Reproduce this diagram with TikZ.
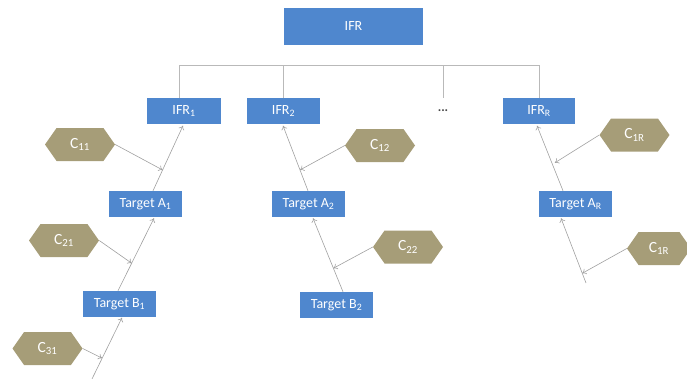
\documentclass[tikz,border=0pt]{standalone}
\usepackage{fontspec}
\setmainfont{Carlito}
\usetikzlibrary{shapes.symbols,calc,arrows.meta}
\definecolor{boxblue}{RGB}{79,135,206}
\definecolor{hextan}{RGB}{166,157,120}
\definecolor{treegray}{RGB}{185,185,185}
\definecolor{arrgray}{RGB}{160,160,160}
\definecolor{dotgray}{RGB}{70,70,70}
\begin{document}
\begin{tikzpicture}[x=1pt,y=-1pt,
  box/.style={fill=boxblue,text=white,inner sep=0pt,minimum width=73pt,minimum height=26pt,font=\fontsize{14}{16}\selectfont},
  hexa/.style={signal,signal to=east and west,signal pointer angle=110,fill=hextan,text=white,minimum width=70pt,minimum height=33pt,inner sep=0pt,font=\fontsize{15.5}{17}\selectfont},
  tree/.style={draw=treegray,line width=0.8pt},
  arr/.style={draw=arrgray,line width=0.6pt,-{To[length=4pt,width=6pt]}}]
\useasboundingbox (0,0) rectangle (687,378);
\clip (0,0) rectangle (687,378);
% boxes
\node[box,minimum width=139pt,minimum height=37pt] (IFR) at (353.5,26.5) {IFR};
\node[box,minimum width=74pt] (IFR1) at (184,111) {IFR\textsubscript{1}};
\node[box] (IFR2) at (283.5,111) {IFR\textsubscript{2}};
\node[box,minimum width=72pt] (IFRR) at (539,111) {IFR\textsubscript{R}};
\node[inner sep=0pt,text=dotgray,font=\bfseries\fontsize{13}{15}\selectfont] (dots) at (443,111) {...};
\node[box] (A1) at (145.5,204) {Target A\textsubscript{1}};
\node[box] (B1) at (119.5,304) {Target B\textsubscript{1}};
\node[box] (A2) at (308.5,204) {Target A\textsubscript{2}};
\node[box] (B2) at (336.5,305) {Target B\textsubscript{2}};
\node[box] (AR) at (575.5,204) {Target A\textsubscript{R}};
% hexagons
\node[hexa] (C11) at (80,144.5) {C\textsubscript{11}};
\node[hexa] (C21) at (64,240.5) {C\textsubscript{21}};
\node[hexa] (C31) at (47.5,348.5) {C\textsubscript{31}};
\node[hexa] (C12) at (380,145.5) {C\textsubscript{12}};
\node[hexa] (C22) at (408,247) {C\textsubscript{22}};
\node[hexa] (C1Ra) at (634.5,135) {C\textsubscript{1R}};
\node[hexa,minimum width=64pt] (C1Rb) at (659,248.5) {C\textsubscript{1R}};
% tree
\coordinate (hl) at (0,65);
\draw[tree] ([xshift=-5pt]IFR1.north) -- ([xshift=-5pt]IFR1.north |- hl) -- (IFRR.north |- hl) -- (IFRR.north);
\draw[tree] (IFR2.north) -- (IFR2.north |- hl);
\draw[tree] (dots.north |- hl) -- ($(dots.north |- hl)+(0,33)$);
% column 1
\coordinate (s1) at (91,381);
\coordinate (b1b) at ($(B1.south)+(2.5,0.5)$);
\coordinate (b1t) at ($(B1.north)+(-1.5,0)$);
\coordinate (a1b) at ($(A1.south)+(8.5,1)$);
\coordinate (a1t) at ($(A1.north)+(7.5,0)$);
\coordinate (i1b) at ($(IFR1.south)+(-1,1.5)$);
\draw[arr] (s1) -- (b1b);
\draw[arr] (b1t) -- (a1b);
\draw[arr] (a1t) -- (i1b);
\draw[arr] (C11.east) -- ($(a1t)!0.32!(i1b)$);
\draw[arr] (C21.east) -- ($(b1t)!0.38!(a1b)$);
\draw[arr] (C31.east) -- ($(s1)!0.36!(b1b)$);
% column 2
\coordinate (b2t) at ($(B2.north)+(6.5,0)$);
\coordinate (a2b) at ($(A2.south)+(4.5,1)$);
\coordinate (a2t) at ($(A2.north)+(-0.5,0)$);
\coordinate (i2b) at ($(IFR2.south)+(-0.5,1.5)$);
\draw[arr] (b2t) -- (a2b);
\draw[arr] (a2t) -- (i2b);
\draw[arr] (C12.west) -- ($(a2t)!0.32!(i2b)$);
\draw[arr] (C22.west) -- ($(b2t)!0.32!(a2b)$);
% column R
\coordinate (sR) at (586,283);
\coordinate (arb) at ($(AR.south)+(-14.5,1)$);
\coordinate (art) at ($(AR.north)+(-12.5,0)$);
\coordinate (irb) at ($(IFRR.south)+(-2,1.5)$);
\draw[arr] (sR) -- (arb);
\draw[arr] (art) -- (irb);
\draw[arr] (C1Ra.west) -- ($(art)!0.43!(irb)+(3,0)$);
\draw[arr] (C1Rb.west) -- ($(sR)!0.15!(arb)$);
\end{tikzpicture}
\end{document}
